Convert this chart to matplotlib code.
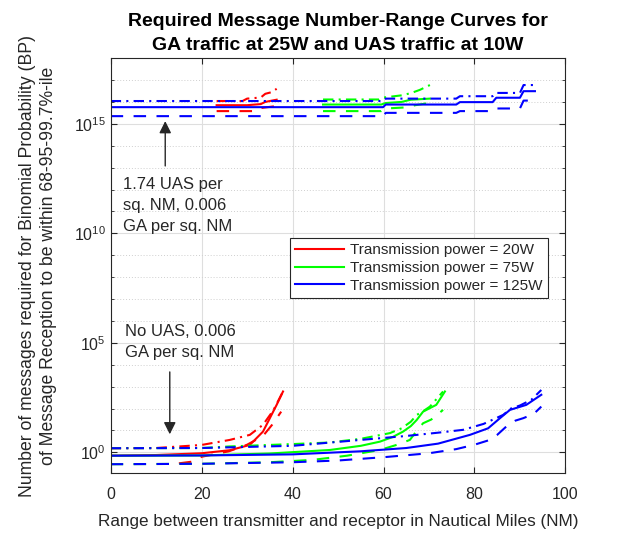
import matplotlib
matplotlib.use("Agg")
import matplotlib.pyplot as plt
import numpy as np
from matplotlib.ticker import FixedLocator, LogFormatterMathtext, NullFormatter

plt.rcParams['font.family'] = ['Liberation Sans', 'DejaVu Sans']

# --- data (log10 of message number) ---
# No UAS, 0.006 GA per sq. NM
red_lo_solid_x = [0, 10, 20, 26.2, 30.6, 33.5, 35, 36.5, 37.9]
red_lo_solid_y = [-0.15, -0.12, -0.04, 0.1, 0.34, 0.95, 1.56, 2.17, 2.78]
red_lo_dash_x = [15, 18, 20, 26, 30, 33.5, 35.5, 37.5]
red_lo_dash_y = [-0.5, -0.42, -0.2, 0.05, 0.35, 0.75, 1.26, 1.86]
red_lo_dd_x = [0, 10, 20, 26.2, 30.6, 33.5, 35.8, 37.7]
red_lo_dd_y = [0.19, 0.2, 0.34, 0.57, 0.8, 1.26, 1.93, 2.7]

green_lo_solid_x = [0, 20, 35, 48.2, 55, 59.2, 62, 64.3, 66, 67.3, 68.7, 70, 71.6, 73.5]
green_lo_solid_y = [-0.15, -0.14, -0.05, 0.11, 0.3, 0.49, 0.7, 0.95, 1.2, 1.48, 1.86, 2.0, 2.17, 2.78]
green_lo_dash_x = [0, 20, 35, 44.5, 52, 59.2, 63, 65.8, 67, 68.7, 70.5, 73.1]
green_lo_dash_y = [-0.54, -0.52, -0.45, -0.34, -0.15, 0.11, 0.35, 0.57, 0.9, 1.33, 1.5, 1.94]
green_lo_dd_x = [0, 20, 26, 40, 48, 55, 61.4, 64, 66, 67.3, 68.5, 70.2, 73.1]
green_lo_dd_y = [0.19, 0.2, 0.27, 0.38, 0.45, 0.62, 0.88, 1.1, 1.4, 1.71, 1.85, 2.09, 2.78]

blue_lo_solid_x = [0, 20, 40, 55, 65, 72, 79, 83, 85.6, 87.8, 91.4, 94.7]
blue_lo_solid_y = [-0.15, -0.14, -0.09, 0.05, 0.2, 0.4, 0.8, 1.1, 1.56, 1.94, 2.17, 2.63]
blue_lo_dash_x = [0, 20, 40, 50, 60, 70, 76, 80, 83.4, 85, 87, 89, 90.7, 93, 94.7]
blue_lo_dash_y = [-0.54, -0.52, -0.45, -0.37, -0.22, -0.04, 0.15, 0.35, 0.57, 0.8, 1.18, 1.45, 1.56, 1.75, 2.09]
blue_lo_dd_x = [0, 20, 40, 55, 65, 72, 77.5, 82, 86.3, 88, 90, 92.5, 94.7]
blue_lo_dd_y = [0.19, 0.2, 0.3, 0.57, 0.75, 0.9, 1.03, 1.3, 1.71, 2.0, 2.14, 2.4, 2.85]

# 1.74 UAS per sq. NM, 0.006 GA per sq. NM
red_hi_solid_x = [23.3, 30, 33, 34, 36.5]
red_hi_solid_y = [15.85, 15.85, 15.9, 16.0, 16.1]
red_hi_dash_x = [23.3, 32, 33, 36]
red_hi_dash_y = [15.58, 15.58, 15.72, 15.8]
red_hi_dd_x = [23.3, 29, 30, 33, 34, 35.5, 36.5]
red_hi_dd_y = [16.04, 16.04, 16.15, 16.2, 16.37, 16.45, 16.6]

green_hi_solid_x = [46.7, 59.5, 60.5, 64, 66, 70.2]
green_hi_solid_y = [15.88, 15.88, 15.95, 16.0, 16.1, 16.15]
green_hi_dash_x = [46.7, 59.5, 60.5, 65, 67, 70]
green_hi_dash_y = [15.58, 15.58, 15.7, 15.75, 15.85, 15.95]
green_hi_dd_x = [46.7, 59, 60, 64, 66, 68, 70.2]
green_hi_dd_y = [16.11, 16.11, 16.2, 16.3, 16.4, 16.55, 16.77]

blue_hi_x = [0, 59.9, 60.5, 76, 76.8, 84, 84.8, 90, 90.8, 93.3]
blue_hi_solid_y = [15.76, 15.76, 15.88, 15.88, 15.99, 15.99, 16.19, 16.19, 16.49, 16.49]
blue_hi_dash_y = [15.35, 15.35, 15.5, 15.5, 15.58, 15.58, 15.7, 15.7, 16.06, 16.06]
blue_hi_dd_y = [16.04, 16.04, 16.15, 16.15, 16.26, 16.26, 16.41, 16.41, 16.77, 16.77]

labels = ['Transmission power = 20W', 'Transmission power = 75W', 'Transmission power = 125W']

SOLID = '-'
DASH = (0, (6, 5))
DD = (0, (5, 2.5, 1, 2.5))

fig = plt.figure(figsize=(6.36, 5.33), dpi=100)
ax = fig.add_axes([0.174, 0.1126, 0.715, 0.7784])


def line(x, y, c, ls, label=None):
    ax.plot(x, 10 ** np.array(y), color=c, ls=ls, lw=1.5, label=label)


# red
line(red_lo_solid_x, red_lo_solid_y, 'r', SOLID, labels[0])
line(red_lo_dash_x, red_lo_dash_y, 'r', DASH)
line(red_lo_dd_x, red_lo_dd_y, 'r', DD)
line(red_hi_solid_x, red_hi_solid_y, 'r', SOLID)
line(red_hi_dash_x, red_hi_dash_y, 'r', DASH)
line(red_hi_dd_x, red_hi_dd_y, 'r', DD)
# green
line(green_lo_solid_x, green_lo_solid_y, 'lime', SOLID, labels[1])
line(green_lo_dash_x, green_lo_dash_y, 'lime', DASH)
line(green_lo_dd_x, green_lo_dd_y, 'lime', DD)
line(green_hi_solid_x, green_hi_solid_y, 'lime', SOLID)
line(green_hi_dash_x, green_hi_dash_y, 'lime', DASH)
line(green_hi_dd_x, green_hi_dd_y, 'lime', DD)
# blue
line(blue_lo_solid_x, blue_lo_solid_y, 'b', SOLID, labels[2])
line(blue_lo_dash_x, blue_lo_dash_y, 'b', DASH)
line(blue_lo_dd_x, blue_lo_dd_y, 'b', DD)
line(blue_hi_x, blue_hi_solid_y, 'b', SOLID)
line(blue_hi_x, blue_hi_dash_y, 'b', DASH)
line(blue_hi_x, blue_hi_dd_y, 'b', DD)

ax.set_yscale('log')
ax.set_xlim(0, 100)
ax.set_ylim(10 ** -0.94, 1e18)
ax.set_xticks([0, 20, 40, 60, 80, 100])
ax.yaxis.set_major_locator(FixedLocator([1e0, 1e5, 1e10, 1e15]))
ax.yaxis.set_major_formatter(LogFormatterMathtext())
ax.yaxis.set_minor_locator(FixedLocator([10.0 ** k for k in range(-1, 19)]))
ax.yaxis.set_minor_formatter(NullFormatter())

ax.grid(True, which='major', color='#dedede', lw=0.8, ls='-')
ax.grid(True, which='minor', axis='y', color='#cfcfcf', lw=0.7, ls=(0, (1, 2)))
ax.set_axisbelow(True)
ax.tick_params(which='both', direction='in', top=True, right=True, colors='#262626',
               labelsize=11.5, length=4)
ax.tick_params(which='minor', length=2)
ax.tick_params(axis='x', pad=10)
for s in ax.spines.values():
    s.set_color('#262626')
    s.set_linewidth(0.8)

ax.set_title('Required Message Number-Range Curves for\nGA traffic at 25W and UAS traffic at 10W',
             fontsize=14, fontweight='bold', pad=6, linespacing=1.55)
ax.set_xlabel('Range between transmitter and receptor in Nautical Miles (NM)',
              fontsize=12.3, color='#262626', labelpad=9)
ax.set_ylabel('Number of messages required for Binomial Probability (BP)\n'
              'of Message Reception to be within 68-95-99.7%-ile',
              fontsize=12.7, color='#262626', labelpad=12, linespacing=1.3)

ax.annotate('', xy=(12, 10 ** 15.25), xytext=(12, 10 ** 12.95),
            arrowprops=dict(arrowstyle='-|>', color='#262626', lw=1, mutation_scale=18))
ax.text(2.8, 10 ** 12.55, '1.74 UAS per\nsq. NM, 0.006\nGA per sq. NM',
        fontsize=12, color='#262626', linespacing=1.5, va='top', ha='left')

ax.annotate('', xy=(13, 10 ** 0.7), xytext=(13, 10 ** 3.8),
            arrowprops=dict(arrowstyle='-|>', color='#262626', lw=1, mutation_scale=18))
ax.text(3.1, 10 ** 5.85, 'No UAS, 0.006\nGA per sq. NM',
        fontsize=12, color='#262626', linespacing=1.5, va='top', ha='left')

leg = ax.legend(loc='upper right', bbox_to_anchor=(0.962, 0.567), fontsize=11,
                frameon=True, fancybox=False, framealpha=1, edgecolor='#262626',
                handlelength=3.2, handletextpad=0.4, borderpad=0.35, labelspacing=0.25,
                borderaxespad=0)
leg.get_frame().set_linewidth(0.8)
for t in leg.get_texts():
    t.set_color('#262626')

fig.savefig('out.png', dpi=100)
